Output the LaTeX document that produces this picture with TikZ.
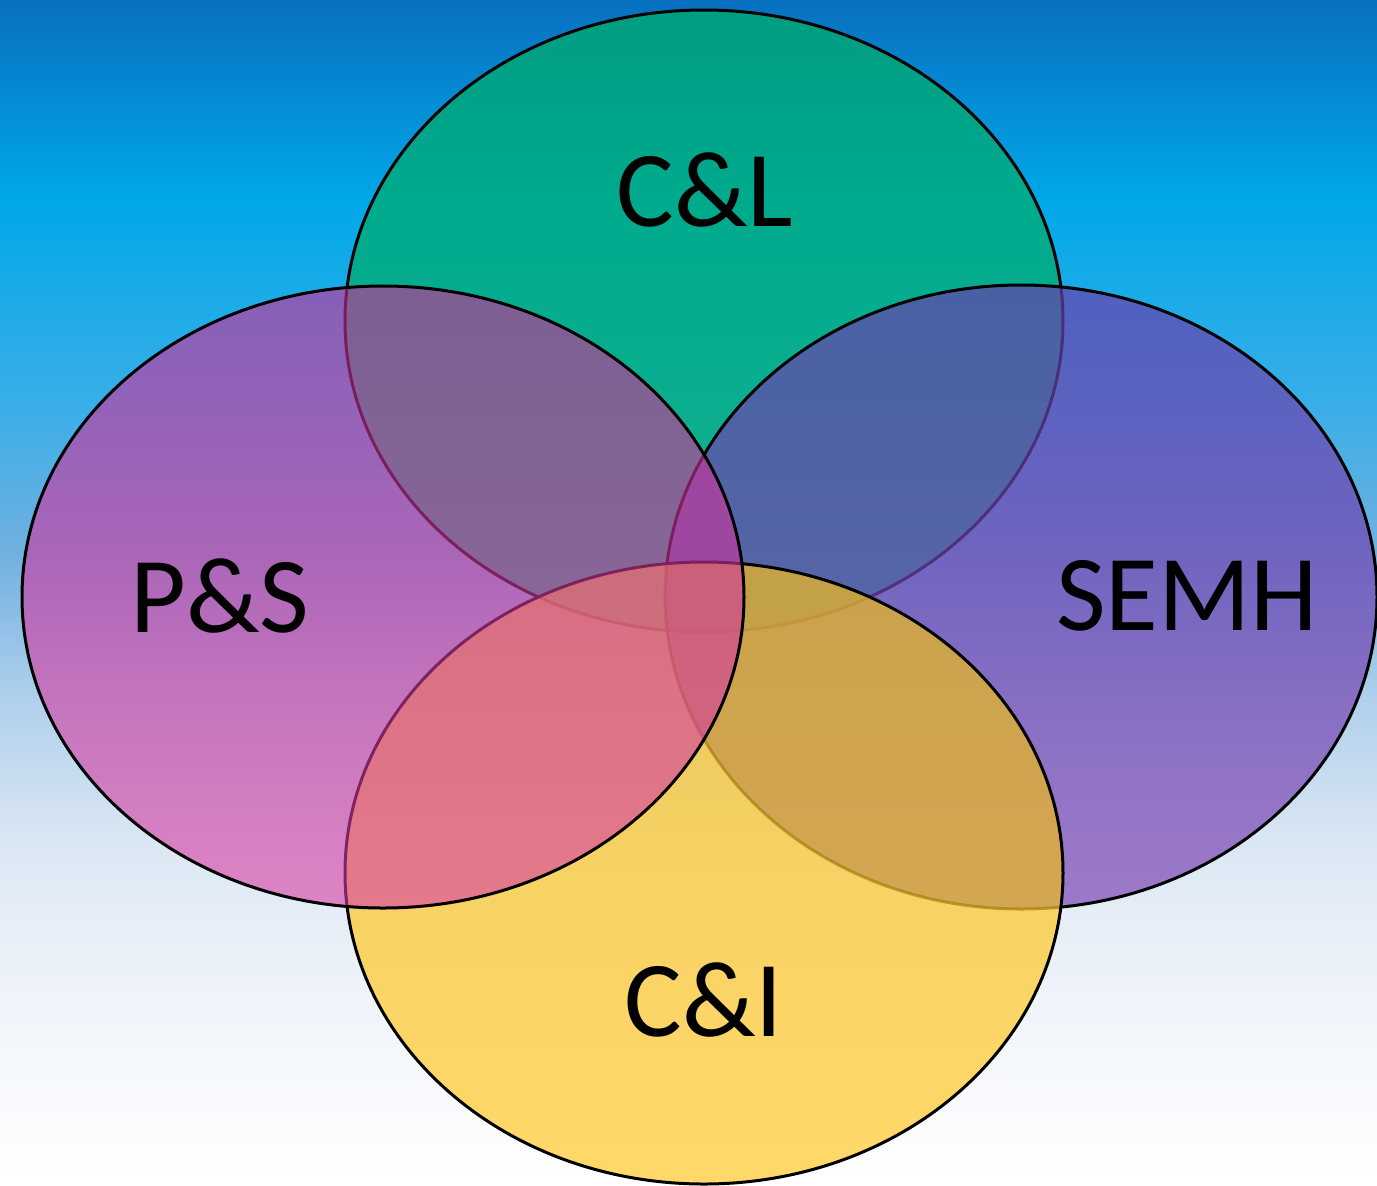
\documentclass[tikz,border=0pt]{standalone}
\usepackage{fontspec}
\setmainfont{Carlito}
\pgfdeclareverticalshading{bgshade}{100bp}{%
color(0bp)=(white);
color(25bp)=(white);
color(32.8bp)=(rgb,255:red,240;green,244;blue,250);
color(39.1bp)=(rgb,255:red,221;green,232;blue,244);
color(45.5bp)=(rgb,255:red,176;green,208;blue,236);
color(51.8bp)=(rgb,255:red,112;green,176;blue,224);
color(58.1bp)=(rgb,255:red,56;green,174;blue,232);
color(66.6bp)=(rgb,255:red,0;green,168;blue,232);
color(75bp)=(rgb,255:red,8;green,112;blue,192);
color(100bp)=(rgb,255:red,8;green,112;blue,192)}
\definecolor{gtop}{RGB}{0,168,116}
\definecolor{gbot}{RGB}{0,178,124}
\definecolor{ltop}{RGB}{206,45,152}
\definecolor{lbot}{RGB}{214,62,164}
\definecolor{rtop}{RGB}{102,66,174}
\definecolor{rbot}{RGB}{126,72,182}
\definecolor{ytop}{RGB}{255,200,47}
\definecolor{ybot}{RGB}{255,204,56}
\tikzset{
  blob/.style={draw=black, line width=1.5pt, draw opacity=1},
  lbl/.style={text=black, font=\fontsize{54}{62}\selectfont, inner sep=0pt}
}
\begin{document}
\begin{tikzpicture}[x=0.5pt,y=-0.5pt]
\useasboundingbox (0,0) rectangle (1377,1185);
\shade[shading=bgshade] (0,0) rectangle (1377,1185);
% ellipses, bottom to top
\shade[blob, fill opacity=0.8, top color=gtop, bottom color=gbot] (704,321) ellipse [x radius=359, y radius=311];
\shade[blob, fill opacity=0.7, top color=rtop, bottom color=rbot] (1021,597) ellipse [x radius=356, y radius=312];
\shade[blob, fill opacity=0.75, top color=ytop, bottom color=ybot] (704,873) ellipse [x radius=359, y radius=311];
\begin{scope}
  \clip (1021,597) ellipse [x radius=356, y radius=312];
  \clip (704,873) ellipse [x radius=359, y radius=311];
  \fill[black, fill opacity=0.08] (300,500) rectangle (1377,1185);
\end{scope}
\shade[blob, fill opacity=0.6, top color=ltop, bottom color=lbot] (383,597) ellipse [x radius=361, y radius=311];
% labels
\node[lbl] (cl) at (705,190) {C\&L};
\node[lbl] (ps) at (220,596) {P\&S};
\node[lbl] (semh) at (1187,596) {SEMH};
\node[lbl] (ci) at (704,1000) {C\&I};
\end{tikzpicture}
\end{document}
